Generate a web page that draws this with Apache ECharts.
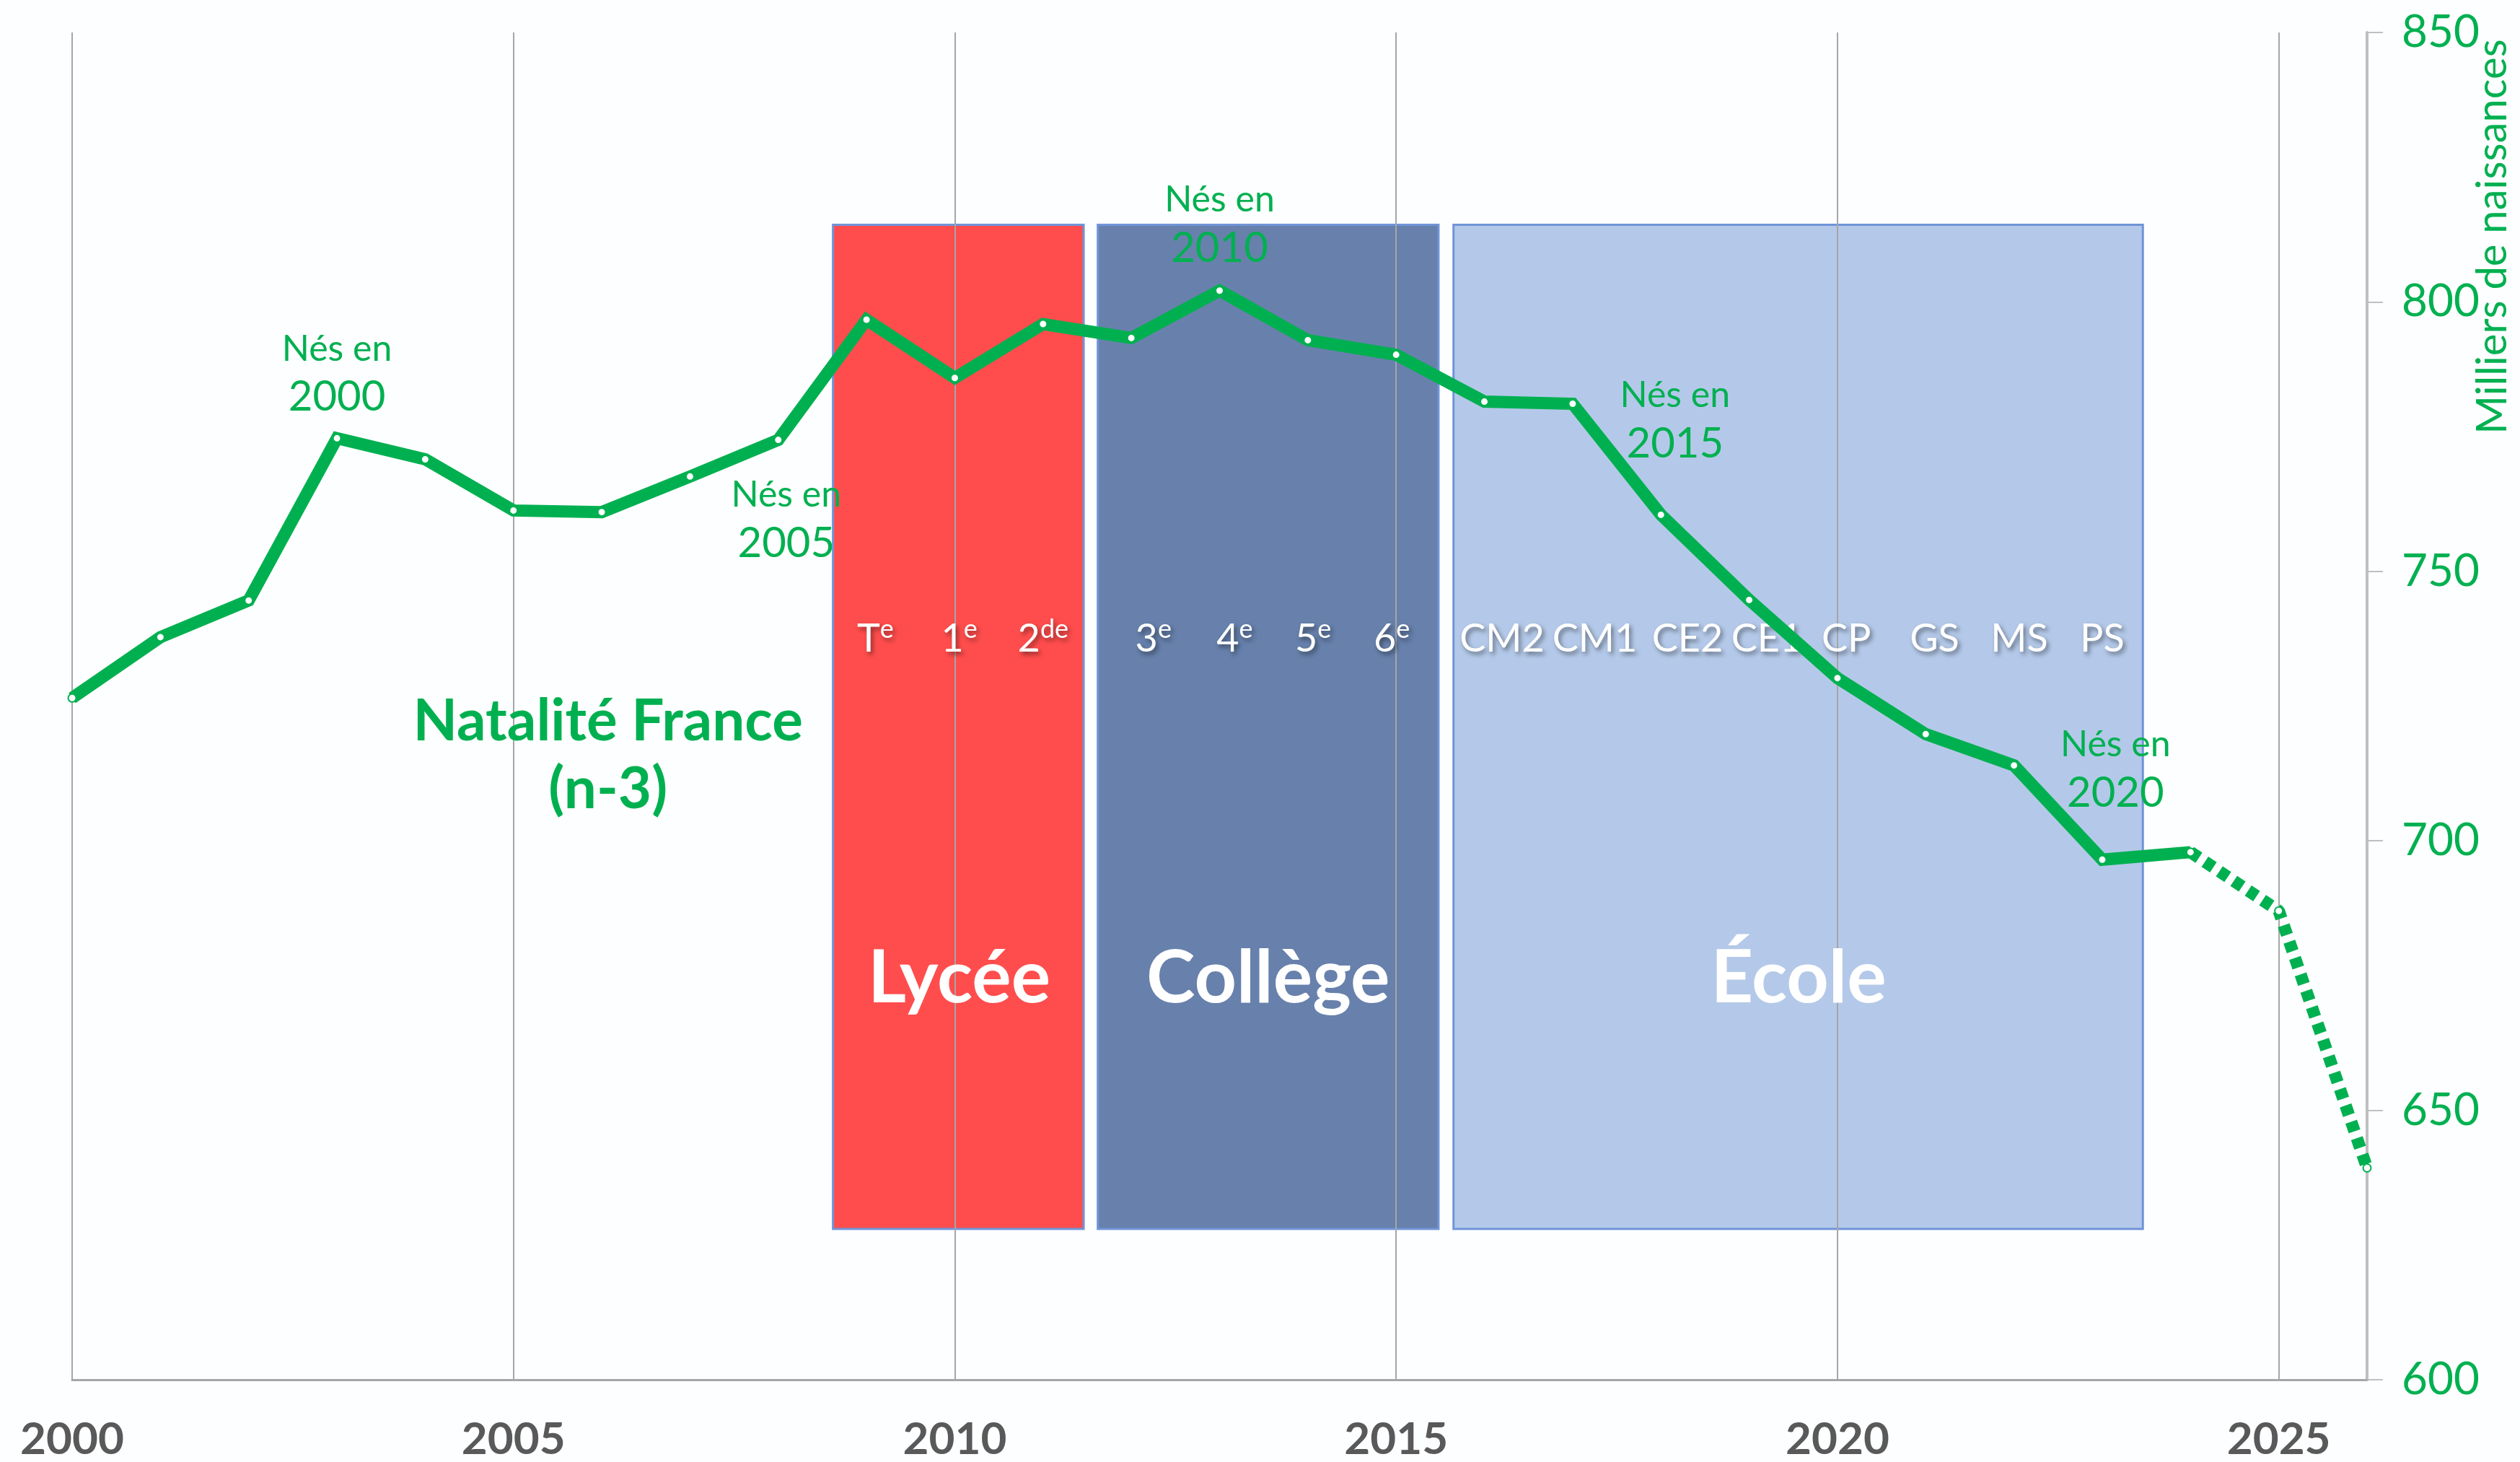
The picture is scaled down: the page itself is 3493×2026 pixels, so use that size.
<!DOCTYPE html>
<html>
<head>
<meta charset="utf-8">
<script src="https://cdn.jsdelivr.net/npm/echarts@6/dist/echarts.min.js"></script>
<style>
html,body{margin:0;padding:0;background:#FDFEFF;}
#chart{width:3493px;height:2026px;}
</style>
</head>
<body>
<div id="chart"></div>
<script>
// ---- data ----
const years = [2000,2001,2002,2003,2004,2005,2006,2007,2008,2009,2010,2011,2012,2013,2014,2015,2016,2017,2018,2019,2020,2021,2022,2023,2024,2025,2026];
const births = [726.5,737.8,744.6,774.7,770.8,761.3,761.0,767.6,774.4,796.7,785.9,795.9,793.3,802.1,792.9,790.2,781.5,781.1,760.5,744.7,730.2,719.8,714.0,696.5,697.9,687.0,639.3];
const lastObservedYear = 2024;

const blockNames = ['Lycée','Collège','École'];
const blockStart = [2008.62, 2011.62, 2015.65];
const blockEnd = [2011.46, 2015.48, 2023.46];
const blockTop = 814.3;
const blockBottom = 628.0;
const blockColors = ['#FF4D4D','#6781AC','#B4C9E9'];
const blockLabelX = [2010.05, 2013.55, 2019.56];
const blockLabelY = 674.4;

const gradeNames = ['T','1','2','3','4','5','6','CM2','CM1','CE2','CE1','CP','GS','MS','PS'];
const gradeSups  = ['e','e','de','e','e','e','e','','','','','','','',''];
const gradeX = [2009.1,2010.05,2011.0,2012.25,2013.17,2014.06,2014.95,2016.2,2017.25,2018.3,2019.2,2020.1,2021.1,2022.06,2023.0];
const gradeY = 737.5;

const cohortYears = ['2000','2005','2010','2015','2020'];
const cohortX = [2003.0, 2008.09, 2013.0, 2018.16, 2023.15];
const cohortY = [786.3, 759.2, 814.0, 777.7, 712.9];

const xTicks = {min:2000, max:2026, interval:5};
const yTicks = {min:600, max:850, interval:50};

// ---- build ----
const green = '#00B050';
const font = 'Lato';
const solidData = [], dashData = [];
years.forEach((y,i)=>{
  if (y <= lastObservedYear) solidData.push([y, births[i]]);
  if (y >= lastObservedYear) dashData.push([y, births[i]]);
});

const shadow = {textShadowColor:'rgba(0,0,0,0.45)', textShadowBlur:6, textShadowOffsetX:3, textShadowOffsetY:4};

const chart = echarts.init(document.getElementById('chart'), null, {renderer:'canvas'});
chart.setOption({
  backgroundColor:'#FDFEFF',
  animation:false,
  grid:{left:100, right:212, top:45, bottom:104},
  xAxis:{
    type:'value', min:xTicks.min, max:xTicks.max, interval:xTicks.interval,
    axisLine:{show:true, lineStyle:{color:'#A6A6A6', width:3}},
    axisTick:{show:false},
    splitLine:{show:true, lineStyle:{color:'#A6A6A6', width:2}},
    axisLabel:{show:true, showMaxLabel:false, formatter:v=>String(v), color:'#595959', fontFamily:font, fontWeight:'bold', fontSize:62, margin:52}
  },
  yAxis:{
    type:'value', position:'right', min:yTicks.min, max:yTicks.max, interval:yTicks.interval,
    axisLine:{show:true, lineStyle:{color:'#BFBFBF', width:4}},
    axisTick:{show:true, inside:false, length:22, lineStyle:{color:'#BFBFBF', width:2}},
    splitLine:{show:false},
    axisLabel:{color:green, fontFamily:font, fontSize:62, margin:48}
  },
  graphic:[{
    type:'text', x:3455, y:328, rotation:Math.PI/2,
    style:{text:'Milliers de naissances', fill:green, font:'58px Lato', textAlign:'center', textVerticalAlign:'middle'}
  }],
  series:[
    {
      type:'custom', z:-1,
      data: blockNames.map((n,i)=>[blockStart[i], blockEnd[i], blockTop, blockBottom, i]),
      renderItem:(params, api)=>{
        const p0 = api.coord([api.value(0), api.value(2)]);
        const p1 = api.coord([api.value(1), api.value(3)]);
        return {type:'rect', shape:{x:p0[0], y:p0[1], width:p1[0]-p0[0], height:p1[1]-p0[1]},
          style:{fill:blockColors[api.value(4)], stroke:'#7094D8', lineWidth:3}};
      },
      silent:true
    },
    {
      type:'scatter', symbolSize:0, silent:true, z:3, itemStyle:{opacity:1},
      data: blockNames.map((n,i)=>[blockLabelX[i], blockLabelY, n]),
      label:{show:true, position:'inside', formatter:p=>p.data[2], color:'#FFFFFF', fontFamily:font, fontWeight:'bold', fontSize:102}
    },
    {
      type:'scatter', symbolSize:0, silent:true, z:3, itemStyle:{opacity:1},
      data: gradeNames.map((n,i)=>[gradeX[i], gradeY, n, gradeSups[i]]),
      label:{show:true, position:'inside',
        formatter:p=> p.data[3] ? '{b|'+p.data[2]+'}{s|'+p.data[3]+'}' : '{b|'+p.data[2]+'}',
        rich:{
          b:Object.assign({color:'#FFFFFF', fontFamily:font, fontSize:54, lineHeight:62}, shadow),
          s:Object.assign({color:'#FFFFFF', fontFamily:font, fontSize:36, lineHeight:28, verticalAlign:'top'}, shadow)
        }
      }
    },
    {
      type:'scatter', symbolSize:0, silent:true, z:3, itemStyle:{opacity:1},
      data: cohortYears.map((y,i)=>[cohortX[i], cohortY[i], y]),
      label:{show:true, position:'inside',
        formatter:p=>'{a|Nés en}\n{b|'+p.data[2]+'}',
        rich:{
          a:{color:green, fontFamily:font, fontSize:50, lineHeight:60, align:'center'},
          b:{color:green, fontFamily:font, fontSize:58, lineHeight:74, align:'center'}
        }
      }
    },
    {
      type:'scatter', symbolSize:0, silent:true, z:3, itemStyle:{opacity:1},
      data:[[2006.07, 715.8, 'Natalité France\n(n-3)']],
      label:{show:true, position:'inside', formatter:p=>p.data[2], color:green, fontFamily:font, fontWeight:'bold', fontSize:80, lineHeight:94, align:'center'}
    },
    {
      type:'line', data:dashData, z:4,
      lineStyle:{color:green, width:17, type:[14,10], cap:'butt'},
      symbol:'circle', symbolSize:11, showSymbol:true,
      itemStyle:{color:'#FFFFFF', borderColor:green, borderWidth:2}
    },
    {
      type:'line', data:solidData, z:5,
      lineStyle:{color:green, width:17, join:'miter'},
      symbol:'circle', symbolSize:11, showSymbol:true,
      itemStyle:{color:'#FFFFFF', borderColor:green, borderWidth:2}
    }
  ]
});
</script>
</body>
</html>
